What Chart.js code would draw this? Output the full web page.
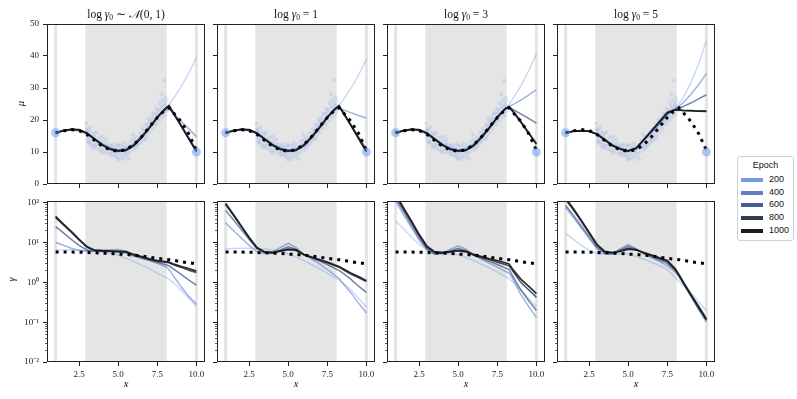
<!DOCTYPE html>
<html>
<head>
<meta charset="utf-8">
<script src="https://cdn.jsdelivr.net/npm/chart.js@4.4.1/dist/chart.umd.min.js"></script>
<style>
body { margin: 0; background: #fff; width: 797px; height: 399px; position: relative; overflow: hidden; font-family: "Liberation Serif", serif; color: #111; }
canvas { position: absolute; }
.ttl { position: absolute; top: 6px; width: 158px; text-align: center; font-size: 11.5px; line-height: 16px; white-space: nowrap; }
.ttl sub { font-size: 7.5px; vertical-align: -2px; }
.ylab { position: absolute; font-size: 10.5px; font-style: italic; transform: rotate(-90deg); }
.xlab { position: absolute; top: 378px; width: 20px; text-align: center; font-size: 10.5px; font-style: italic; }
#legend { position: absolute; left: 737px; top: 156px; width: 55px; height: 83px; border: 1px solid #d0d0d0; border-radius: 3px; font-family: "Liberation Sans", sans-serif; font-size: 9px; }
#legend div { position: absolute; }
</style>
</head>
<body>
<script>
// shared x grid for all curves
var xGrid = [1, 1.5, 2, 2.5, 3, 3.5, 4, 4.5, 5, 5.5, 6, 6.5, 7, 7.5, 8, 8.25, 8.5, 9, 9.5, 10];
var epochs = [200, 400, 600, 800, 1000];
var titles = ['log <i>γ</i><sub>0</sub> ∼ <i>𝒩</i>(0, 1)', 'log <i>γ</i><sub>0</sub> = 1', 'log <i>γ</i><sub>0</sub> = 3', 'log <i>γ</i><sub>0</sub> = 5'];

var xTicks = [2.5, 5, 7.5, 10];
var muTicks = [0, 10, 20, 30, 40, 50];
var gammaTicks = [0.01, 0.1, 1, 10, 100];
var gammaTickLabels = ['10⁻²', '10⁻¹', '10⁰', '10¹', '10²'];

// shaded regions
var bandStart = [0.9, 2.9, 9.9];
var bandEnd = [1.1, 8.1, 10.1];

// observations
var obsX = [1, 10];
var obsY = [16, 10];
var scatterXY = [
  [2.95,18.9],[3.0,16.5],[3.02,14.8],[3.05,13.5],[2.98,17.2],
  [3.1,15.5],[3.12,12.8],[3.08,16.9],[3.2,14.2],[3.22,17.8],[3.18,13.1],
  [3.3,15.0],[3.32,12.4],[3.28,16.2],[3.35,11.5],
  [3.5,13.6],[3.48,15.8],[3.52,12.1],[3.45,14.9],[3.55,11.3],
  [3.62,12.5],[3.6,16.1],[3.65,13.8],[3.8,12.9],[3.78,10.8],[3.82,14.6],[3.85,11.9],
  [4.0,12.0],[3.98,10.5],[4.02,13.4],[4.05,14.8],[3.95,9.8],
  [4.2,11.2],[4.22,12.6],[4.18,9.9],[4.25,13.9],[4.4,10.9],[4.42,9.5],[4.38,12.2],[4.45,11.6],
  [4.6,10.2],[4.62,8.9],[4.58,11.8],[4.65,12.5],[4.55,9.6],
  [4.8,10.6],[4.82,9.2],[4.78,11.4],[4.85,8.6],
  [5.0,10.1],[5.02,8.2],[4.98,11.9],[5.05,9.5],[4.95,12.4],[5.0,7.6],
  [5.2,10.8],[5.22,9.0],[5.18,12.0],[5.25,7.8],
  [5.4,10.4],[5.42,8.5],[5.38,11.6],[5.45,9.7],[5.35,12.8],
  [5.6,11.1],[5.62,9.4],[5.58,12.3],[5.65,7.9],[5.8,11.5],[5.82,13.4],[5.78,10.2],[5.85,12.0],
  [6.0,12.2],[6.02,10.8],[5.98,13.8],[6.05,11.5],[5.95,15.4],
  [6.2,13.1],[6.22,11.7],[6.18,14.6],[6.25,12.4],[6.4,14.3],[6.42,12.8],[6.38,16.0],[6.45,13.5],
  [6.6,15.4],[6.62,13.9],[6.58,17.2],[6.65,16.3],
  [6.8,16.5],[6.82,15.0],[6.78,18.6],[6.85,17.9],[6.75,14.1],
  [7.0,17.8],[7.02,16.2],[6.98,19.5],[7.05,18.6],[6.95,20.4],
  [7.2,18.9],[7.22,17.3],[7.18,20.8],[7.25,22.1],[7.15,19.8],
  [7.4,20.2],[7.42,18.6],[7.38,21.9],[7.45,23.5],[7.35,19.4],
  [7.6,21.4],[7.62,19.8],[7.58,23.2],[7.65,25.3],[7.55,22.3],
  [7.8,22.5],[7.82,20.9],[7.78,24.4],[7.85,26.2],[7.75,28.0],[7.8,23.7],
  [8.0,23.4],[8.02,21.6],[7.98,25.2],[8.05,27.1],[7.95,32.3],[8.0,24.6],
  [8.1,22.8],[8.12,26.0],[8.08,24.1]
];

// reference curves (dotted)
var muTrue = [16, 16.6, 17, 16.7, 15.5, 13.6, 11.8, 10.6, 10.2, 10.7, 12.3, 14.8, 17.8, 20.8, 23.2, 23.8, 22.4, 19.6, 15.8, 10.6];
var gammaTrue = [5.8, 5.8, 5.75, 5.7, 5.6, 5.5, 5.4, 5.3, 5.1, 5.0, 4.8, 4.6, 4.3, 4.0, 3.8, 3.7, 3.6, 3.3, 3.1, 2.9];

// mu per panel, rows = epochs 200..1000
var muN01 = [
  [16,16.5,16.8,16.6,15.6,14.2,12.6,11.3,10.8,11.1,12.6,15,17.8,20.7,23.3,24.8,26.5,30.2,34.5,39.5],
  [16,16.6,17,16.8,15.7,14.1,12.4,11.1,10.6,10.9,12.4,14.9,17.8,20.8,23,23.3,22.2,19.7,17.3,14.8],
  [16,16.6,17,16.9,15.8,14.1,12.3,11,10.5,10.7,12.2,14.8,17.7,20.9,23.4,23.9,22.2,18.6,14.6,10.6],
  [16,16.7,17.1,16.9,15.8,14,12.2,10.9,10.4,10.6,12.1,14.7,17.6,20.9,23.5,24.2,22.3,18.3,14.2,10.1],
  [16,16.7,17.1,17,15.9,14,12.1,10.8,10.3,10.5,12,14.6,17.5,20.8,23.5,24.5,22.5,18.4,14.3,10.2]
];
var mu1 = [
  [16,16.5,16.8,16.6,15.6,14.2,12.6,11.3,10.8,11.1,12.6,15,17.8,20.7,23.3,24.6,26.2,29.8,34,39],
  [16,16.6,17,16.8,15.7,14.1,12.4,11.1,10.6,10.9,12.4,14.9,17.8,20.8,23.2,23.6,23.2,22.3,21.4,20.6],
  [16,16.6,17,16.9,15.8,14.1,12.3,11,10.5,10.7,12.2,14.8,17.7,20.9,23.4,24,22.3,18.6,14.7,10.8],
  [16,16.7,17.1,16.9,15.8,14,12.2,10.9,10.4,10.6,12.1,14.7,17.6,20.9,23.5,24.3,22.4,18.4,14.3,10.3],
  [16,16.7,17.1,17,15.9,14,12.1,10.8,10.3,10.5,12,14.6,17.5,20.8,23.5,24.5,22.5,18.4,14.2,10.1]
];
var mu3 = [
  [16,16.5,16.8,16.6,15.6,14.2,12.6,11.3,10.8,11.1,12.6,15,17.8,20.7,23.3,24.8,26.6,30.6,35.3,40.6],
  [16,16.6,17,16.8,15.7,14.1,12.4,11.1,10.6,10.9,12.4,14.9,17.8,20.8,23.2,24.3,24.8,26.2,27.8,29.5],
  [16,16.6,17,16.9,15.8,14.1,12.3,11,10.5,10.7,12.2,14.8,17.7,20.9,23.4,24,23.3,21.9,20.5,19],
  [16,16.7,17.1,16.9,15.8,14,12.2,10.9,10.4,10.6,12.1,14.7,17.6,20.9,23.5,24,22.6,19.3,15.9,12.4],
  [16,16.7,17.1,17,15.9,14,12.1,10.8,10.3,10.5,12,14.6,17.5,20.8,23.5,24.1,22.8,19.5,16,12.6]
];
var mu5 = [
  [16,16.4,16.7,16.5,15.6,14,12.4,11.2,10.6,11.3,13.4,16,18.7,21.5,23.5,25,26.8,31.5,37.5,44.8],
  [16,16.5,16.7,16.5,15.6,13.9,12.2,11.1,10.5,11.3,13.6,16.3,19,21.8,23.4,24.3,25.3,28,31,34.5],
  [16,16.5,16.7,16.5,15.6,13.9,12.1,11,10.4,11.2,13.7,16.4,19.2,22,23.3,23.7,24.2,25.3,26.6,27.9],
  [16,16.5,16.6,16.5,15.6,13.8,12,10.9,10.3,11.1,13.8,16.6,19.4,22.2,23.1,23.1,23,22.9,22.8,22.8],
  [16,16.5,16.6,16.5,15.6,13.8,12,10.9,10.3,11.1,13.9,16.7,19.5,22.3,23.2,23.1,23,22.9,22.8,22.7]
];

// gamma per panel, rows = epochs 200..1000
var gammaN01 = [
  [6.5,6.5,6.5,6.4,6.2,6,5.8,5.4,4.8,4,3.3,2.7,2.2,1.7,1.35,1.2,1.0,0.65,0.4,0.25],
  [10,8.5,7.2,6.4,6,6.3,6.5,6.6,6.7,6.0,4.8,4.1,3.5,3.0,2.5,2.1,1.5,0.8,0.45,0.28],
  [25,17.5,12,8.5,6.5,6,6,5.9,5.8,5.5,4.6,4,3.6,3.2,2.8,2.6,2.2,1.6,1.15,0.85],
  [42,27.5,18,11.5,7.6,6.3,6.1,6,5.9,5.8,4.9,4.3,3.8,3.4,3.2,3.1,2.8,2.4,2.0,1.75],
  [45,29,19,12,7.9,6.4,6.2,6.1,6.0,5.9,5.0,4.4,3.9,3.5,3.3,3.2,2.9,2.5,2.2,1.9]
];
var gamma1 = [
  [7,7.1,7.2,7.2,7.1,6.9,6.5,6,5.2,4.3,3.5,2.8,2.2,1.7,1.3,1.15,0.95,0.65,0.4,0.24],
  [31,20,13,8.5,5.8,5.3,5.8,7.5,9.5,7.5,5,3.8,2.9,2.1,1.5,1.25,0.95,0.55,0.3,0.17],
  [64,37,21,12,7,5.5,5.4,6.5,7.8,6.8,5,4.1,3.4,2.8,2.2,2,1.7,1.2,0.8,0.56],
  [90,48,25,13,7.3,5.7,5.5,6,6.6,6.3,4.9,4.2,3.6,3.1,2.6,2.4,2.1,1.6,1.3,1.05],
  [95,50,26,13.5,7.5,5.8,5.6,6.2,6.8,6.5,5,4.3,3.7,3.2,2.7,2.5,2.2,1.7,1.4,1.1]
];
var gamma3 = [
  [35,22,14,9,6.5,5.5,5.3,5.2,5,4.3,3.5,2.8,2.3,1.8,1.4,1.25,1.0,0.65,0.4,0.25],
  [110,50,24,11.5,6.5,5,5.4,6.8,8.3,6.8,4.8,3.8,3.0,2.4,1.9,1.7,1.2,0.5,0.25,0.13],
  [130,60,28,13,7,5.2,5.3,6.2,7.2,6.2,4.8,4,3.3,2.8,2.3,2.1,1.4,0.65,0.35,0.2],
  [150,70,33,15,7.6,5.6,5.4,5.8,6.2,5.8,4.8,4.2,3.7,3.2,2.8,2.6,1.9,1.0,0.65,0.42],
  [160,75,35,16,8,5.8,5.6,5.9,6.3,6.0,5.0,4.4,3.9,3.5,3.1,2.9,2.1,1.2,0.8,0.52]
];
var gamma5 = [
  [17,12,8.5,6.3,5.3,5.1,5.1,5.2,5.2,4.4,3.8,3.2,2.6,2.1,1.3,1.05,0.85,0.55,0.33,0.19],
  [75,42,23,12.5,7,5.2,5.2,7,8.8,7,5.1,4.1,3.3,2.6,1.8,1.35,0.95,0.45,0.21,0.1],
  [85,48,26,14,7.6,5.4,5.2,6.5,8,6.8,5.3,4.4,3.6,3.0,2.0,1.45,1.0,0.47,0.22,0.11],
  [120,65,34,17,8.6,5.8,5.5,6.2,7.2,6.6,5.5,4.7,3.9,3.3,2.1,1.5,1.0,0.48,0.23,0.115],
  [130,70,36,18,9,6,5.6,6.0,6.8,6.5,5.6,4.8,4.1,3.5,2.2,1.55,1.05,0.5,0.25,0.12]
];

var muPanels = [muN01, mu1, mu3, mu5];
var gammaPanels = [gammaN01, gamma1, gamma3, gamma5];

var lineColors = ['rgba(100,149,237,0.35)', 'rgba(80,120,195,0.55)', 'rgba(60,85,135,0.72)', 'rgba(40,50,72,0.85)', 'rgba(25,25,25,0.9)'];
var legendColors = ['#6d9de6', '#5980c2', '#465f8e', '#2f3c54', '#1c1c1c'];
var axisColor = '#222';
var tickFont = { family: 'Liberation Serif', size: 9 };

function pts(ys) {
  return xGrid.map(function (x, i) { return { x: x, y: ys[i] }; });
}

var bandsPlugin = {
  id: 'bands',
  beforeDatasetsDraw: function (chart) {
    var ctx = chart.ctx, a = chart.chartArea, xs = chart.scales.x;
    ctx.save();
    ctx.fillStyle = '#e5e5e5';
    for (var i = 0; i < bandStart.length; i++) {
      var x0 = xs.getPixelForValue(bandStart[i]), x1 = xs.getPixelForValue(bandEnd[i]);
      ctx.fillRect(x0, a.top, x1 - x0, a.bottom - a.top);
    }
    ctx.restore();
  }
};

var framePlugin = {
  id: 'frame',
  afterDraw: function (chart) {
    var ctx = chart.ctx, a = chart.chartArea, ys = chart.scales.y;
    ctx.save();
    ctx.strokeStyle = axisColor;
    ctx.lineWidth = 1;
    if (ys.type === 'logarithmic') {
      // minor ticks
      ctx.lineWidth = 0.7;
      ctx.beginPath();
      for (var k = -2; k < 2; k++) {
        for (var m = 2; m < 10; m++) {
          var v = m * Math.pow(10, k);
          var py = Math.round(ys.getPixelForValue(v)) + 0.5;
          ctx.moveTo(a.left - 2, py);
          ctx.lineTo(a.left, py);
        }
      }
      ctx.stroke();
      ctx.lineWidth = 1;
    }
    ctx.strokeRect(Math.round(a.left) + 0.5, Math.round(a.top) + 0.5, Math.round(a.right - a.left) - 1, Math.round(a.bottom - a.top) - 1);
    ctx.restore();
  }
};

function makePanel(row, col) {
  var padL = 45, padT = 12, padR = 12, padB = 30;
  var plotLeft = 47 + 170 * col;
  var plotTop = row === 0 ? 24 : 201;
  var plotH = row === 0 ? 160 : 161;
  var plotW = 158;
  var canvas = document.createElement('canvas');
  canvas.width = padL + plotW + padR;
  canvas.height = padT + plotH + padB;
  canvas.style.left = (plotLeft - padL) + 'px';
  canvas.style.top = (plotTop - padT) + 'px';
  document.body.appendChild(canvas);

  var series = row === 0 ? muPanels[col] : gammaPanels[col];
  var datasets = [];
  datasets.push({ type: 'scatter', data: obsX.map(function (x, i) { return { x: x, y: obsY[i] }; }), pointRadius: row === 0 ? 4.5 : 0,
    backgroundColor: 'rgba(100,149,237,0.5)', borderWidth: 0, order: 0 });
  datasets.push({ type: 'line', data: pts(row === 0 ? muTrue : gammaTrue), borderColor: '#000', borderWidth: 3,
    borderDash: [3, 5], borderCapStyle: 'butt', pointRadius: 0, tension: 0, order: 1 });
  for (var e = epochs.length - 1; e >= 0; e--) {
    datasets.push({ type: 'line', label: String(epochs[e]), data: pts(series[e]), borderColor: lineColors[e],
      borderWidth: e === 4 ? 1.8 : 1.5, pointRadius: 0, tension: 0, order: 2 + (4 - e) });
  }
  if (row === 0) {
    datasets.push({ type: 'scatter', data: scatterXY.map(function (p) { return { x: p[0], y: p[1] }; }), pointRadius: 2.1,
      backgroundColor: 'rgba(100,149,237,0.17)', borderWidth: 0, order: 10 });
  }

  var yScale;
  if (row === 0) {
    yScale = { type: 'linear', min: 0, max: 50,
      afterBuildTicks: function (s) { s.ticks = muTicks.map(function (v) { return { value: v }; }); } };
  } else {
    yScale = { type: 'logarithmic', min: 0.01, max: 110,
      afterBuildTicks: function (s) { s.ticks = gammaTicks.map(function (v) { return { value: v }; }); } };
  }
  yScale.afterFit = function (s) { s.width = padL; };
  yScale.ticks = { display: col === 0, font: tickFont, color: axisColor, padding: 4, autoSkip: false,
    callback: function (v, i) { return row === 0 ? String(v) : gammaTickLabels[i]; } };
  yScale.grid = { drawOnChartArea: false, drawTicks: true, tickLength: 4, color: axisColor };
  yScale.border = { display: false };

  new Chart(canvas, {
    data: { datasets: datasets },
    options: {
      responsive: false,
      animation: false,
      devicePixelRatio: 1,
      layout: { padding: { left: 0, top: padT, right: padR, bottom: 0 } },
      plugins: { legend: { display: false }, tooltip: { enabled: false } },
      scales: {
        x: { type: 'linear', min: 0.45, max: 10.55,
          afterBuildTicks: function (s) { s.ticks = xTicks.map(function (v) { return { value: v }; }); },
          afterFit: function (s) { s.height = padB; },
          ticks: { display: row === 1, font: tickFont, color: axisColor, padding: 3, maxRotation: 0, autoSkip: false,
            callback: function (v) { return v.toFixed(1); } },
          grid: { drawOnChartArea: false, drawTicks: true, tickLength: 4, color: axisColor },
          border: { display: false } },
        y: yScale
      }
    },
    plugins: [bandsPlugin, framePlugin]
  });

  if (row === 0) {
    var t = document.createElement('div');
    t.className = 'ttl';
    t.style.left = plotLeft + 'px';
    t.innerHTML = titles[col];
    document.body.appendChild(t);
  } else {
    var xl = document.createElement('div');
    xl.className = 'xlab';
    xl.style.left = (plotLeft + 79 - 10) + 'px';
    xl.textContent = 'x';
    document.body.appendChild(xl);
  }
}

for (var r = 0; r < 2; r++) {
  for (var c = 0; c < 4; c++) makePanel(r, c);
}

// axis labels
var yl1 = document.createElement('div');
yl1.className = 'ylab'; yl1.textContent = 'μ';
yl1.style.left = '18px'; yl1.style.top = '98px';
document.body.appendChild(yl1);
var yl2 = document.createElement('div');
yl2.className = 'ylab'; yl2.textContent = 'γ';
yl2.style.left = '9px'; yl2.style.top = '274px';
document.body.appendChild(yl2);

// legend
var lg = document.createElement('div');
lg.id = 'legend';
var lt = document.createElement('div');
lt.textContent = 'Epoch';
lt.style.left = '0px'; lt.style.width = '55px'; lt.style.textAlign = 'center'; lt.style.top = '3px';
lg.appendChild(lt);
epochs.forEach(function (ep, i) {
  var sw = document.createElement('div');
  sw.style.left = '3px'; sw.style.top = (21 + i * 12.7) + 'px';
  sw.style.width = '22px'; sw.style.height = '4px'; sw.style.background = legendColors[i];
  lg.appendChild(sw);
  var lb = document.createElement('div');
  lb.textContent = String(ep);
  lb.style.left = '31px'; lb.style.top = (17 + i * 12.7) + 'px';
  lg.appendChild(lb);
});
document.body.appendChild(lg);
</script>
</body>
</html>
